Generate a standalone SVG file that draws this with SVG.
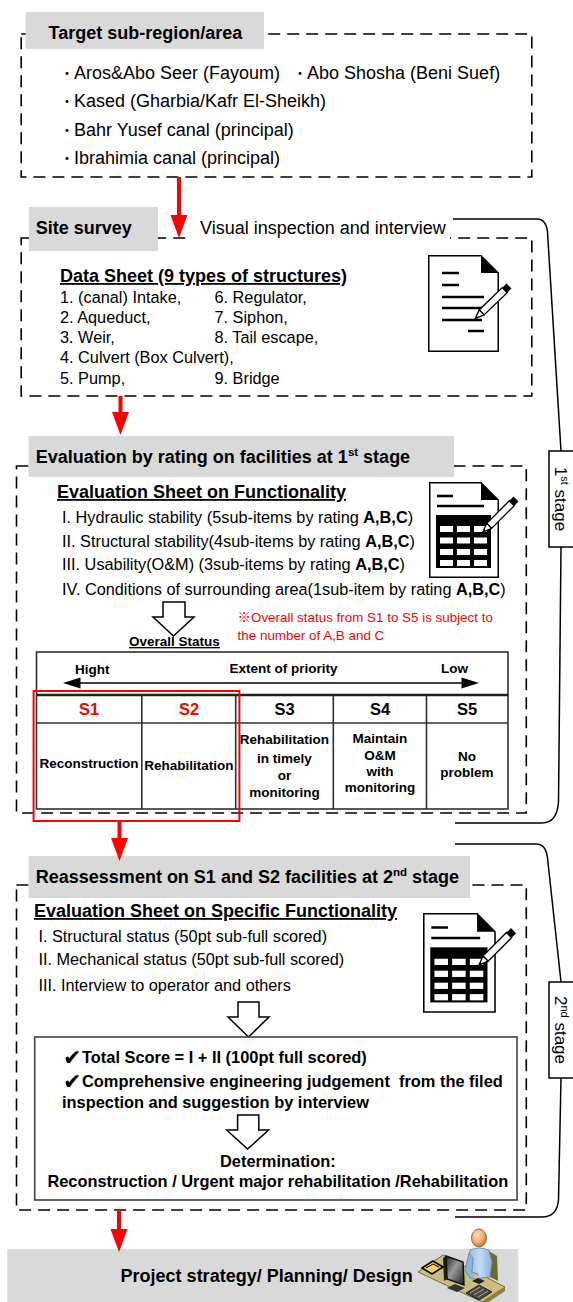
<svg xmlns="http://www.w3.org/2000/svg" xmlns:xlink="http://www.w3.org/1999/xlink" width="573" height="1302" viewBox="0 0 573 1302">
  <style>
    text { font-family: "Liberation Sans", Arial, "Noto Sans CJK JP", sans-serif; fill: #000; }
    .r18 { font-size: 18px; }
    .b18 { font-size: 18px; font-weight: bold; }
    .r16 { font-size: 16.3px; }
    .b16 { font-size: 16.4px; font-weight: bold; }
    .b13 { font-size: 13.5px; font-weight: bold; }
    .s16 { font-size: 16.5px; font-weight: bold; }
    .dot { font-size: 14px; }
    .note { font-size: 13.4px; fill: #ff0000; }
    .red { fill: #ff0000; }
    .ul { text-decoration: underline; }
    .mid { text-anchor: middle; }
    .chk { font-family: "DejaVu Sans", sans-serif; font-size: 22px; }
    .hdr { fill: #d9d9d9; }
    .dash { fill: none; stroke: #000; stroke-width: 1.6; stroke-dasharray: 12 7; }
    .grid { fill: none; stroke: #303030; stroke-width: 1.6; }
    .hollow { fill: #fff; stroke: #000; stroke-width: 1.5; stroke-linejoin: miter; }
    .brace { fill: none; stroke: #000; stroke-width: 1.5; }
    .stagebox { fill: #fff; stroke: #000; stroke-width: 1.5; }
    .flow { stroke: #ff0000; stroke-width: 4; fill: none; }
    .flowhead { fill: #ff0000; }
  </style>
  <defs>
    <!-- pencil used on the sheet icons -->
    <g id="pencil">
      <rect x="0" y="-3.5" width="6" height="7" fill="#000"/>
      <rect x="6" y="-3.5" width="32" height="7" fill="#fff" stroke="#000" stroke-width="1.3"/>
      <path d="M38,-3.5 L47,0 L38,3.5 Z" fill="#fff" stroke="#000" stroke-width="1.3" stroke-linejoin="round"/>
      <path d="M44,-1.2 L47,0 L44,1.2 Z" fill="#000"/>
    </g>
    <!-- lined data sheet -->
    <g id="sheet-lined">
      <path d="M0.75,0.75 H53 L70.25,18 V96.25 H0.75 Z" fill="#fff" stroke="#000" stroke-width="1.5"/>
      <path d="M53,0.75 L70.25,18 H53 Z" fill="#000"/>
      <path d="M14,18 H31 M14,30 H31 M14,42 H56 M14,53 H56 M14,65 H54 M40,76 H56" stroke="#000" stroke-width="2.5"/>
      <use xlink:href="#pencil" href="#pencil" transform="translate(81,31) rotate(136)"/>
    </g>
    <!-- evaluation sheet with a table -->
    <g id="sheet-table">
      <path d="M0.75,0.75 H52 L69.25,18 V95.25 H0.75 Z" fill="#fff" stroke="#000" stroke-width="1.5"/>
      <path d="M52,0.75 L69.25,18 H52 Z" fill="#000"/>
      <path d="M8,14 H24 M8,24 H55" stroke="#000" stroke-width="2.5"/>
      <rect x="7" y="33" width="55" height="53" fill="#000"/>
      <g fill="#fff">
        <rect x="11" y="44" width="13" height="6"/><rect x="28" y="44" width="13" height="6"/><rect x="45" y="44" width="13" height="6"/>
        <rect x="11" y="55.5" width="13" height="6"/><rect x="28" y="55.5" width="13" height="6"/><rect x="45" y="55.5" width="13" height="6"/>
        <rect x="11" y="67" width="13" height="6"/><rect x="28" y="67" width="13" height="6"/><rect x="45" y="67" width="13" height="6"/>
        <rect x="11" y="78" width="13" height="6"/><rect x="28" y="78" width="13" height="6"/><rect x="45" y="78" width="13" height="6"/>
      </g>
      <use xlink:href="#pencil" href="#pencil" transform="translate(87,17) rotate(135)"/>
    </g>
    <radialGradient id="skin" cx="0.4" cy="0.35" r="0.7">
      <stop offset="0" stop-color="#fde0c4"/>
      <stop offset="0.6" stop-color="#f0a86a"/>
      <stop offset="1" stop-color="#c8661f"/>
    </radialGradient>
    <linearGradient id="screen" x1="0" y1="0" x2="1" y2="1">
      <stop offset="0" stop-color="#202020"/>
      <stop offset="0.45" stop-color="#9a9a9a"/>
      <stop offset="1" stop-color="#1a1a1a"/>
    </linearGradient>
    <linearGradient id="shirt" x1="0" y1="0" x2="1" y2="0">
      <stop offset="0" stop-color="#8fb9e0"/>
      <stop offset="0.5" stop-color="#c4dcf2"/>
      <stop offset="1" stop-color="#86afd8"/>
    </linearGradient>
  </defs>

  <!-- Target sub-region/area -->
  <g id="node-target">
    <rect class="dash" x="21.2" y="34" width="510.6" height="143"/>
    <rect class="hdr" x="25.6" y="12" width="238.4" height="37"/>
    <text class="b18" x="48.6" y="39">Target sub-region/area</text>
    <text class="dot" x="60" y="78">・</text>
    <text class="r18" x="74" y="79">Aros&amp;Abo Seer (Fayoum)</text>
    <text class="dot" x="293" y="78">・</text>
    <text class="r18" x="307" y="79">Abo Shosha (Beni Suef)</text>
    <text class="dot" x="60" y="106">・</text>
    <text class="r18" x="74" y="107">Kased (Gharbia/Kafr El-Sheikh)</text>
    <text class="dot" x="60" y="135">・</text>
    <text class="r18" x="74" y="136">Bahr Yusef canal (principal)</text>
    <text class="dot" x="60" y="163">・</text>
    <text class="r18" x="74" y="164">Ibrahimia canal (principal)</text>
  </g>

  <!-- Site survey -->
  <g id="node-survey">
    <rect class="dash" x="21.2" y="238" width="510.6" height="158"/>
    <rect class="hdr" x="28.9" y="207" width="129" height="44"/>
    <text class="b18" x="35.8" y="234">Site survey</text>
    <rect x="192" y="219" width="258" height="23" fill="#fff"/>
    <text class="r18" x="200" y="234">Visual inspection and interview</text>
    <text class="b18 ul" x="60" y="282">Data Sheet (9 types of structures)</text>
    <text class="r16" x="60" y="303">1. (canal) Intake,</text>
    <text class="r16" x="214.5" y="303">6. Regulator,</text>
    <text class="r16" x="60" y="323">2. Aqueduct,</text>
    <text class="r16" x="214.5" y="323">7. Siphon,</text>
    <text class="r16" x="60" y="343">3. Weir,</text>
    <text class="r16" x="214.5" y="343">8. Tail escape,</text>
    <text class="r16" x="60" y="363">4. Culvert (Box Culvert),</text>
    <text class="r16" x="60" y="384">5. Pump,</text>
    <text class="r16" x="214.5" y="384">9. Bridge</text>
    <use xlink:href="#sheet-lined" href="#sheet-lined" transform="translate(428,255)"/>
  </g>

  <!-- Evaluation by rating, 1st stage -->
  <g id="node-eval1">
    <rect class="dash" x="16.5" y="466" width="509.8" height="347"/>
    <rect class="hdr" x="28.5" y="436" width="425.5" height="41"/>
    <text class="b18" x="35.8" y="463">Evaluation by rating on facilities at 1<tspan font-size="11.5" dy="-7">st</tspan><tspan dy="7"> stage</tspan></text>
    <text class="b18 ul" x="57" y="498">Evaluation Sheet on Functionality</text>
    <text class="r16" x="62" y="523">I. Hydraulic stability (5sub-items by rating <tspan font-weight="bold">A,B,C</tspan>)</text>
    <text class="r16" x="62" y="547">II. Structural stability(4sub-items by rating <tspan font-weight="bold">A,B,C</tspan>)</text>
    <text class="r16" x="62" y="570">III. Usability(O&amp;M) (3sub-items by rating <tspan font-weight="bold">A,B,C</tspan>)</text>
    <text class="r16" x="62" y="595">IV. Conditions of surrounding area(1sub-item by rating <tspan font-weight="bold">A,B,C</tspan>)</text>
    <use xlink:href="#sheet-table" href="#sheet-table" transform="translate(429,482)"/>
    <polygon class="hollow" points="163,602 185,602 185,617 194,617 173.5,636 153,617 163,617"/>
    <text class="b13 ul" x="129" y="646">Overall Status</text>
    <text class="note" x="237.6" y="622">※Overall status from S1 to S5 is subject to</text>
    <text class="note" x="237.6" y="640">the number of A,B and C</text>

    <!-- status table -->
    <rect class="grid" x="36.5" y="652" width="471.5" height="157"/>
    <line x1="36.5" y1="695" x2="508" y2="695" stroke="#202020" stroke-width="2.4"/>
    <line class="grid" x1="36.5" y1="723" x2="508" y2="723"/>
    <path class="grid" d="M141.8,695 V809 M235.7,695 V809 M333.3,695 V809 M426.5,695 V809"/>
    <text class="b13" x="75" y="674">Hight</text>
    <text class="b13 mid" x="283.5" y="673">Extent of priority</text>
    <text class="b13" x="441" y="673">Low</text>
    <line x1="78" y1="683" x2="464" y2="683" stroke="#000" stroke-width="1.6"/>
    <polygon points="63,683 80.5,677.5 80.5,688.5" fill="#000"/>
    <polygon points="479,683 461.5,677.5 461.5,688.5" fill="#000"/>
    <text class="s16 mid red" x="89" y="715">S1</text>
    <text class="s16 mid red" x="189" y="715">S2</text>
    <text class="s16 mid" x="284.5" y="715">S3</text>
    <text class="s16 mid" x="380" y="715">S4</text>
    <text class="s16 mid" x="467" y="715">S5</text>
    <text class="b13 mid" x="89" y="768">Reconstruction</text>
    <text class="b13 mid" x="189" y="770">Rehabilitation</text>
    <text class="b13 mid" x="284.5" y="744">Rehabilitation</text>
    <text class="b13 mid" x="284.5" y="762.5">in timely</text>
    <text class="b13 mid" x="284.5" y="780">or</text>
    <text class="b13 mid" x="284.5" y="797">monitoring</text>
    <text class="b13 mid" x="380" y="743">Maintain</text>
    <text class="b13 mid" x="380" y="759.5">O&amp;M</text>
    <text class="b13 mid" x="380" y="775.5">with</text>
    <text class="b13 mid" x="380" y="792">monitoring</text>
    <text class="b13 mid" x="467" y="761">No</text>
    <text class="b13 mid" x="467" y="777">problem</text>
    <rect x="33.6" y="691" width="205.8" height="130" fill="none" stroke="#ff0000" stroke-width="2"/>
  </g>

  <!-- 1st stage label -->
  <g id="node-stage1">
    <rect class="stagebox" x="549" y="451" width="26" height="96"/>
    <text class="mid" font-size="17" transform="translate(555,499) rotate(90)">1<tspan font-size="11" dy="-6">st</tspan><tspan dy="6"> stage</tspan></text>
  </g>

  <!-- Reassessment, 2nd stage -->
  <g id="node-eval2">
    <rect class="dash" x="16.5" y="885" width="509.8" height="325"/>
    <rect class="hdr" x="28.5" y="856" width="441.5" height="42"/>
    <text class="b18" x="35.8" y="883">Reassessment on S1 and S2 facilities at 2<tspan font-size="11.5" dy="-7">nd</tspan><tspan dy="7"> stage</tspan></text>
    <text class="b18 ul" x="34" y="917">Evaluation Sheet on Specific Functionality</text>
    <text class="r16" x="38.4" y="942">I. Structural status (50pt sub-full scored)</text>
    <text class="r16" x="38.4" y="965">II. Mechanical status (50pt sub-full scored)</text>
    <text class="r16" x="38.4" y="991">III. Interview to operator and others</text>
    <use xlink:href="#sheet-table" href="#sheet-table" transform="translate(423,913) scale(1.04)"/>
    <polygon class="hollow" points="238,1002 259,1002 259,1017 269,1017 248.5,1037 228,1017 238,1017"/>
    <rect x="34.7" y="1037" width="482.3" height="163" fill="#fff" stroke="#404040" stroke-width="1.6"/>
    <text class="chk" x="63" y="1065">✔</text>
    <text class="b16" x="82" y="1063">Total Score = I + II (100pt full scored)</text>
    <text class="chk" x="63" y="1089">✔</text>
    <text class="b16" x="82" y="1087" style="white-space:pre">Comprehensive engineering judgement  from the filed</text>
    <text class="b16" x="62" y="1108">inspection and suggestion by interview</text>
    <polygon class="hollow" points="237.6,1115 258.8,1115 258.8,1130 268.6,1130 247.6,1149 226.6,1130 237.6,1130"/>
    <text class="b16 mid" x="277.8" y="1167">Determination:</text>
    <text class="b16 mid" x="277.8" y="1187">Reconstruction / Urgent major rehabilitation /Rehabilitation</text>
  </g>

  <!-- 2nd stage label -->
  <g id="node-stage2">
    <rect class="stagebox" x="549" y="982" width="26" height="96"/>
    <text class="mid" font-size="17" transform="translate(555,1030) rotate(90)">2<tspan font-size="11" dy="-6">nd</tspan><tspan dy="6"> stage</tspan></text>
  </g>

  <!-- Project strategy -->
  <g id="node-project">
    <rect class="hdr" x="7.3" y="1249" width="511" height="53"/>
    <text class="b18" x="120.6" y="1282">Project strategy/ Planning/ Design</text>
    <g id="icon-desk-user">
      <path d="M487,1250 L497,1256 L498,1281 L488,1276 Z" fill="#6e6a2c"/>
      <polygon points="418,1272 443,1255 505,1287 482,1302" fill="#c9bd7f" stroke="#7a6f2f" stroke-width="1"/>
      <polygon points="482,1302 505,1287 505,1291 484,1305" fill="#8c7f3c"/>
      <path d="M470,1250 Q479,1246 489,1250 L492,1262 L490,1277 L472,1279 L468,1262 Z" fill="url(#shirt)" stroke="#5b88b5" stroke-width="0.8"/>
      <path d="M469,1253 L465,1270 L470,1278 L478,1279 L478,1274 L472,1272 L473,1258 Z" fill="#8db6de" stroke="#5b88b5" stroke-width="0.8"/>
      <ellipse cx="476" cy="1276.5" rx="3" ry="2" fill="#f4b183"/>
      <ellipse cx="479" cy="1238" rx="7.5" ry="9" fill="url(#skin)" stroke="#8a4a12" stroke-width="0.8"/>
      <polygon points="472,1281 478,1278 485,1281 479,1284" fill="#222"/>
      <polygon points="443,1258 446,1256 447,1279 444,1281" fill="#222"/>
      <polygon points="446,1256 463,1262 464,1285 447,1279" fill="url(#screen)" stroke="#111" stroke-width="1.5"/>
      <polygon points="447,1288 455,1284 465,1288 457,1292" fill="#333"/>
      <polygon points="422,1268 433,1261 443,1267 432,1274" fill="#f2d14e" stroke="#000" stroke-width="1.6"/>
      <path d="M426,1268 L433,1264 L439,1267" fill="none" stroke="#000" stroke-width="1"/>
      <polygon points="466,1293 479,1285 492,1292 479,1300" fill="#4a4a4a" stroke="#222" stroke-width="1"/>
      <path d="M470,1293 L480,1287 M474,1295 L484,1289 M478,1297 L488,1291" stroke="#bbb" stroke-width="0.8"/>
    </g>
  </g>

  <!-- connectors: red flow arrows and stage braces -->
  <g id="connectors">
    <path class="flow" d="M179,177 V216"/>
    <polygon class="flowhead" points="170.5,215 187.5,215 179,238"/>
    <path class="flow" d="M120.5,396 V413"/>
    <polygon class="flowhead" points="112,412 129,412 120.5,435"/>
    <path class="flow" d="M119.5,821 V839"/>
    <polygon class="flowhead" points="111,838 128,838 119.5,861"/>
    <path class="flow" d="M119,1210 V1230"/>
    <polygon class="flowhead" points="110.5,1229 127.5,1229 119,1252"/>
    <path class="brace" d="M453,219 H537 Q546,219 547.5,232 L561,451"/>
    <path class="brace" d="M561,547 L558.5,802 Q557,823 542,823 H455"/>
    <path class="brace" d="M455,844 H536 Q546,844 547.5,858 L561,982"/>
    <path class="brace" d="M561,1078 L558.5,1200 Q557,1217 542,1217 H455"/>
  </g>
</svg>
